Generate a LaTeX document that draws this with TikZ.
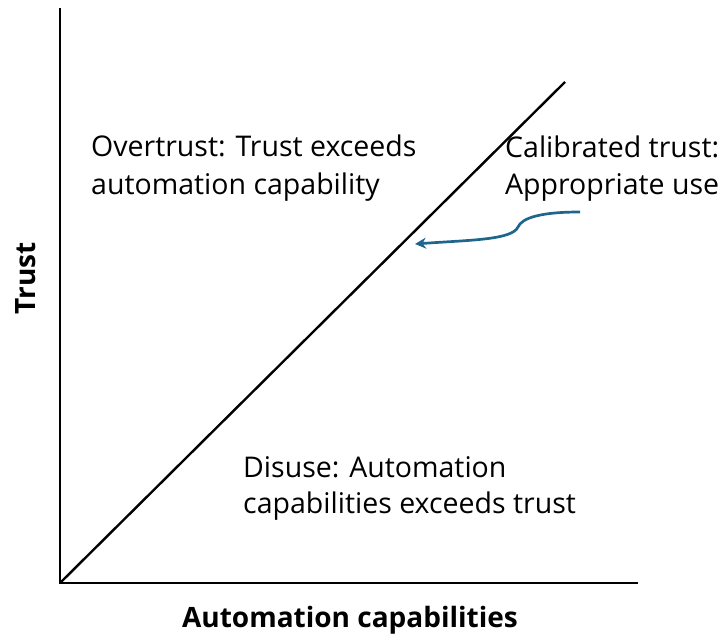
\documentclass[tikz,border=0pt]{standalone}
\usepackage{fontspec}
\setmainfont{Open Sans}
\usetikzlibrary{arrows.meta}
\definecolor{arrowblue}{RGB}{31,102,140}

\begin{document}
\begin{tikzpicture}[x=1pt,y=1pt,yscale=-1,xscale=1]
\useasboundingbox (0,0) rectangle (725,639);

% Axes
\coordinate (origin) at (60,583);
\coordinate (ytop) at (60,8);
\coordinate (xend) at (638,583);
\coordinate (diagend) at (565,82);
\draw [line width=2.6pt] (ytop) -- (origin) -- (xend) ;

% Straight Lines (calibrated trust)
\draw [line width=2.4pt] (origin) -- (diagend) ;

% Text Node
\node [anchor=base west, inner sep=0pt, align=left, font=\fontsize{28.5}{37}\selectfont] (over) at (91,194) {Overtrust: Trust exceeds\\automation capability};
% Text Node
\node [anchor=base west, inner sep=0pt, align=left, font=\fontsize{28.5}{36}\selectfont] (calib) at (505,194) {Calibrated trust:\\Appropriate use};
% Text Node
\node [anchor=base west, inner sep=0pt, align=left, font=\fontsize{28.5}{36}\selectfont] (disuse) at (243,513) {Disuse: Automation\\capabilities exceeds trust};

% Axis labels
\node [anchor=base, inner sep=0pt, font=\bfseries\fontsize{28}{32}\selectfont] (xlabel) at (350,627) {Automation capabilities};
\node [anchor=base, inner sep=0pt, rotate=90, font=\bfseries\fontsize{28}{32}\selectfont] (ylabel) at (35,278) {Trust};

% Curve Lines
\coordinate (arrstart) at (580,212);
\coordinate (arrtip) at (415,244);
\draw [color=arrowblue, line width=2.7pt, -{Stealth[length=11pt,width=11pt]}] (arrstart) .. controls (540,212) and (522,218) .. (518,227) .. controls (512,240) and (470,240) .. (arrtip) ;

\end{tikzpicture}
\end{document}
